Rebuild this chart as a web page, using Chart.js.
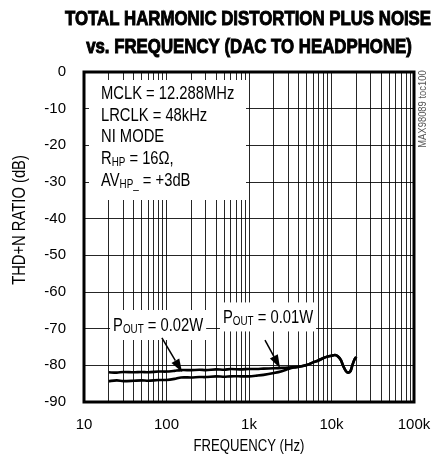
<!DOCTYPE html>
<html>
<head>
<meta charset="utf-8">
<script src="https://cdn.jsdelivr.net/npm/chart.js@4.4.1/dist/chart.umd.min.js"></script>
<style>
  html, body { margin: 0; padding: 0; background: #fff; }
  canvas { display: block; }
</style>
</head>
<body>
<canvas id="chart" width="433" height="462"></canvas>
<script>
// Liberation Sans squeezed to 82% stands in for a narrow Helvetica
const FONT = '"Liberation Sans", Arial, sans-serif';
const NARROW = 0.82;

// frequency points (Hz) and THD+N (dB) for each output power
const freqHz = [20, 25, 30, 40, 50, 60, 80, 100, 125, 150, 200, 250, 300, 400, 500, 600, 800,
    1000, 1250, 1500, 2000, 2500, 3000, 3500, 4000, 5000, 6000, 7000, 8000, 9000, 10000,
    11000, 12000, 13000, 14000, 15000, 16000, 17000, 18000, 19000, 20000];
const thdn10mW = [-81.9, -82.0, -81.8, -81.9, -81.8, -81.9, -81.7, -81.7, -81.5, -81.3, -81.3, -81.2,
    -81.3, -81.1, -81.2, -81.0, -81.1, -81.0, -81.0, -80.9, -80.8, -80.7, -80.6, -80.5, -80.4,
    -79.9, -79.2, -78.6, -78.0, -77.6, -77.4, -77.2, -77.6, -78.6, -80.4, -81.6, -82.0, -81.6,
    -79.8, -78.4, -77.7];
const thdn20mW = [-84.3, -84.1, -84.3, -84.2, -84.1, -84.2, -84.0, -84.0, -83.7, -83.3, -83.3, -83.2,
    -83.2, -83.0, -83.1, -83.0, -83.0, -83.0, -82.8, -82.6, -82.1, -81.6, -81.0, -80.6, -80.4,
    -79.9, -79.2, -78.6, -78.0, -77.6, -77.4, -77.2, -77.6, -78.6, -80.4, -81.6, -82.0, -81.6,
    -79.8, -78.4, -77.7];

// axes
const xGridHz = [];
for (let decade = 10; decade < 100000; decade *= 10) {
    for (let m = 1; m < 10; m++) xGridHz.push(m * decade);
}
xGridHz.push(100000);
const xTickHz = [10, 100, 1000, 10000, 100000];
const xTickLabels = ['10', '100', '1k', '10k', '100k'];
const yMin = -90;
const yMax = 0;

const conditions = [
    [['MCLK = 12.288MHz']],
    [['LRCLK = 48kHz']],
    [['NI MODE']],
    [['R'], ['HP', 'sub'], [' = 16Ω,']],
    [['AV'], ['HP_', 'sub'], [' = +3dB']]
];

// text label + arrow tail/tip in data units
const powerNotes = [
    { parts: [['P'], ['OUT', 'sub'], [' = 0.02W']], atHz: 22.5, atDb: -69.0, padY: 15,
      tail: [88, -72.5], tip: [154, -81.8] },
    { parts: [['P'], ['OUT', 'sub'], [' = 0.01W']], atHz: 484, atDb: -66.8, padY: 14.5,
      tail: [1563, -73.1], tip: [2377, -80.7] }
];

function partFont(p) {
    return (p[1] === 'sub' ? '12px ' : '18px ') + FONT;
}

function richWidth(ctx, parts) {
    let w = 0;
    parts.forEach(p => {
        ctx.font = partFont(p);
        w += ctx.measureText(p[0]).width;
    });
    return w * NARROW;
}

function drawRich(ctx, parts, x, y) {
    ctx.save();
    ctx.translate(x, y);
    ctx.scale(NARROW, 1);
    ctx.textBaseline = 'alphabetic';
    ctx.textAlign = 'left';
    let cx = 0;
    parts.forEach(p => {
        ctx.font = partFont(p);
        ctx.fillText(p[0], cx, p[1] === 'sub' ? 2 : 0);
        cx += ctx.measureText(p[0]).width;
    });
    ctx.restore();
}

function narrowText(ctx, text, x, y, font, rotate, bold) {
    ctx.save();
    ctx.translate(x, y);
    if (rotate) ctx.rotate(rotate);
    ctx.scale(NARROW, 1);
    ctx.font = font;
    ctx.textAlign = 'center';
    ctx.textBaseline = 'middle';
    ctx.fillText(text, 0, 0);
    if (bold) {
        ctx.lineWidth = bold;
        ctx.strokeStyle = ctx.fillStyle;
        ctx.strokeText(text, 0, 0);
    }
    ctx.restore();
}

function drawArrow(ctx, x1, y1, x2, y2) {
    const ang = Math.atan2(y2 - y1, x2 - x1);
    const len = 13, half = 4.5;
    const bx = x2 - len * Math.cos(ang), by = y2 - len * Math.sin(ang);
    ctx.lineWidth = 1.5;
    ctx.beginPath();
    ctx.moveTo(x1, y1);
    ctx.lineTo(bx, by);
    ctx.stroke();
    ctx.beginPath();
    ctx.moveTo(x2, y2);
    ctx.lineTo(bx + half * Math.sin(ang), by - half * Math.cos(ang));
    ctx.lineTo(bx - half * Math.sin(ang), by + half * Math.cos(ang));
    ctx.closePath();
    ctx.fill();
}

const decorations = {
    id: 'decorations',
    beforeDatasetsDraw(chart) {
        const { ctx, chartArea: a } = chart;
        ctx.save();
        // white panel with test conditions
        ctx.fillStyle = '#fff';
        ctx.fillRect(a.left + 5, a.top + 8, 157, 120);
        ctx.fillStyle = '#000';
        conditions.forEach((line, i) => drawRich(ctx, line, a.left + 17, a.top + 27 + i * 21.7));

        // frame
        ctx.strokeStyle = '#000';
        ctx.lineWidth = 3;
        ctx.strokeRect(a.left, a.top, a.right - a.left, a.bottom - a.top);
        ctx.restore();
    },
    afterDatasetsDraw(chart) {
        const { ctx, chartArea: a, scales: { x, y } } = chart;
        ctx.save();
        powerNotes.forEach(n => {
            const tx = x.getPixelForValue(n.atHz);
            const ty = y.getPixelForValue(n.atDb);
            const w = richWidth(ctx, n.parts);
            ctx.fillStyle = '#fff';
            ctx.fillRect(tx - 3, ty - n.padY, w + 6, n.padY * 2);
            ctx.fillStyle = '#000';
            drawRich(ctx, n.parts, tx, ty + 6);
            ctx.strokeStyle = '#000';
            drawArrow(ctx, x.getPixelForValue(n.tail[0]), y.getPixelForValue(n.tail[1]),
                x.getPixelForValue(n.tip[0]), y.getPixelForValue(n.tip[1]));
        });

        const cx = (a.left + a.right) / 2;
        ctx.fillStyle = '#000';
        narrowText(ctx, 'TOTAL HARMONIC DISTORTION PLUS NOISE', cx - 1, 19, 'bold 20.5px ' + FONT, 0, 1);
        narrowText(ctx, 'vs. FREQUENCY (DAC TO HEADPHONE)', cx, 47, 'bold 20.5px ' + FONT, 0, 1);

        narrowText(ctx, 'THD+N RATIO (dB)', 20, (a.top + a.bottom) / 2 - 17, '18px ' + FONT, -Math.PI / 2);
        narrowText(ctx, 'FREQUENCY (Hz)', cx, 447, '16px ' + FONT);

        ctx.fillStyle = '#555';
        narrowText(ctx, 'MAX98089 toc100', a.right + 9, a.top + 37, '11.5px ' + FONT, -Math.PI / 2);
        ctx.restore();
    }
};

const lineStyle = {
    borderColor: '#000',
    borderWidth: 2.6,
    pointRadius: 0,
    tension: 0.25,
    fill: false
};

new Chart(document.getElementById('chart'), {
    type: 'line',
    data: {
        datasets: [
            Object.assign({ label: 'POUT = 0.01W', data: freqHz.map((f, i) => ({ x: f, y: thdn10mW[i] })) }, lineStyle),
            Object.assign({ label: 'POUT = 0.02W', data: freqHz.map((f, i) => ({ x: f, y: thdn20mW[i] })) }, lineStyle)
        ]
    },
    options: {
        responsive: false,
        animation: false,
        layout: { padding: { top: 72, right: 19, left: 0, bottom: 0 } },
        plugins: {
            legend: { display: false },
            tooltip: { enabled: false }
        },
        scales: {
            x: {
                type: 'logarithmic',
                min: 10,
                max: 100000,
                afterBuildTicks: scale => { scale.ticks = xGridHz.map(v => ({ value: v })); },
                afterFit: scale => {
                    scale.height = 60;
                    scale.paddingLeft = 0;
                    scale.paddingRight = 0;
                },
                ticks: {
                    autoSkip: false,
                    maxRotation: 0,
                    padding: 14,
                    color: '#000',
                    font: { family: FONT, size: 15 },
                    callback: v => {
                        const i = xTickHz.indexOf(v);
                        return i < 0 ? '' : xTickLabels[i];
                    }
                },
                grid: { color: 'rgba(0,0,0,0.85)', lineWidth: 1, drawTicks: false },
                border: { display: false }
            },
            y: {
                type: 'linear',
                min: yMin,
                max: yMax,
                afterFit: scale => {
                    scale.width = 84;
                    scale.paddingTop = 0;
                    scale.paddingBottom = 0;
                },
                ticks: {
                    stepSize: 10,
                    padding: 18,
                    color: '#000',
                    font: { family: FONT, size: 15 }
                },
                grid: { color: 'rgba(0,0,0,0.85)', lineWidth: 1, drawTicks: false },
                border: { display: false }
            }
        }
    },
    plugins: [decorations]
});
</script>
</body>
</html>
